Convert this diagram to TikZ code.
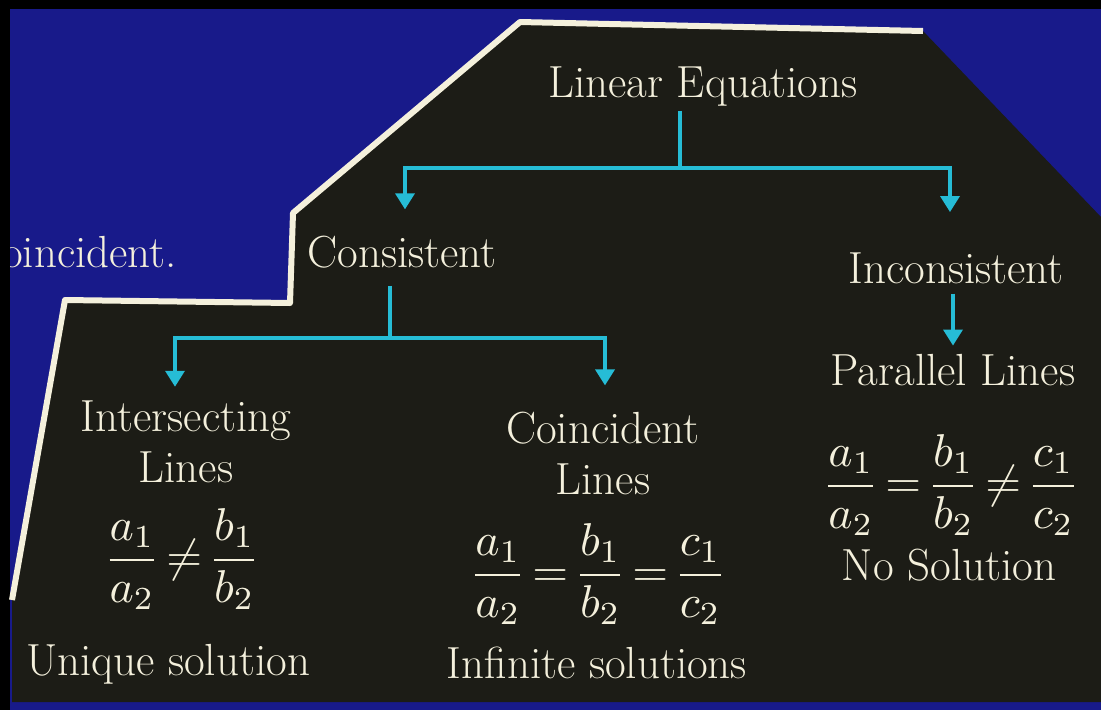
\documentclass[tikz,border=0pt]{standalone}
\usepackage{amsmath}
\usetikzlibrary{arrows.meta,calc}
\definecolor{slideblue}{RGB}{24,26,138}
\definecolor{boardblack}{RGB}{28,28,22}
\definecolor{chalkcream}{RGB}{244,240,220}
\definecolor{linkcyan}{RGB}{38,188,214}
\newcommand{\bigmath}[1]{\scalebox{4.6}{\fontsize{10}{12}\selectfont
  $\thickmuskip=2.5mu\displaystyle #1$}}

\begin{document}
\begin{tikzpicture}[x=1pt,y=-1pt,
    chalktext/.style={text=chalkcream,font=\fontsize{45}{51}\selectfont,
      inner sep=0pt,align=center},
    link/.style={draw=linkcyan,line width=3.5pt},
    linkarrow/.style={link,-{Triangle[width=19pt,length=16pt]}}]
  \useasboundingbox (0,0) rectangle (1101,710);
  % Slide and board
  \fill[black] (0,0) rectangle (1101,710);
  \fill[slideblue] (10,9) rectangle (1101,710);
  \fill[boardblack] (520,22) -- (923,31) -- (1101,217) -- (1101,702)
    -- (12,702) -- (12,600) -- (65,300) -- (290,303) -- (293,213) -- cycle;
  \draw[chalkcream,line width=6pt,line join=round]
    (923,31) -- (520,22) -- (293,213) -- (290,303) -- (65,300) -- (12,600);
  % Text left over from the previous slide
  \begin{scope}
    \clip (10,9) rectangle (290,300);
    \node[chalktext,anchor=base east] (prevtext) at (177,267) {Coincident.};
  \end{scope}
  % Headings
  \node[chalktext,anchor=base] (root) at (703,97) {Linear Equations};
  \node[chalktext,anchor=base] (cons) at (402,267) {Consistent};
  \node[chalktext,anchor=base] (incons) at (956,283) {Inconsistent};
  \node[chalktext] (inter) at (186,442) {Intersecting\\Lines};
  \node[chalktext] (coinc) at (603,453) {Coincident\\Lines};
  \node[chalktext,anchor=base] (para) at (953,385) {Parallel Lines};
  % Conditions
  \node[chalktext] (interfrac) at (182,559)
    {\bigmath{\frac{a_1}{a_2}\neq\frac{b_1}{b_2}}};
  \node[chalktext] (coincfrac) at (598,574)
    {\bigmath{\frac{a_1}{a_2}=\frac{b_1}{b_2}=\frac{c_1}{c_2}}};
  \node[chalktext] (parafrac) at (951,485)
    {\bigmath{\frac{a_1}{a_2}=\frac{b_1}{b_2}\neq\frac{c_1}{c_2}}};
  \node[chalktext,anchor=base] (unique) at (168,675) {Unique solution};
  \node[chalktext,anchor=base] (infinite) at (597,678) {Infinite solutions};
  \node[chalktext,anchor=base] (nosol) at (949,580) {No Solution};
  % Connectors
  \coordinate (rootfork) at (680,168);
  \coordinate (consfork) at (390,338);
  \draw[link,shorten <=5pt] (rootfork |- root.south) -- (rootfork);
  \draw[linkarrow,shorten >=26pt] (rootfork) -| ([xshift=3pt]cons.north);
  \draw[linkarrow,shorten >=40pt] (rootfork) -| ([xshift=-6pt]incons.north);
  \draw[link,shorten <=18pt] ([xshift=-12pt]cons.south) -- (consfork);
  \draw[linkarrow,shorten >=14pt] (consfork) -| ([xshift=-11pt]inter.north);
  \draw[linkarrow,shorten >=26pt] (consfork) -| ([xshift=2pt]coinc.north);
  \draw[linkarrow,shorten <=10pt,shorten >=8pt]
    (incons.south -| para.north) -- (para.north);
\end{tikzpicture}
\end{document}
